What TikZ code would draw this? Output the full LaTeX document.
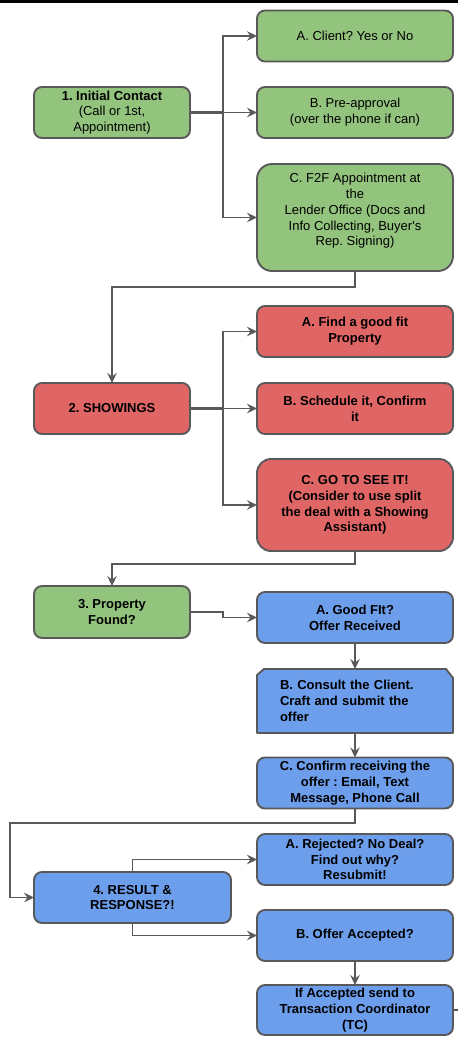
\documentclass[tikz,border=0pt]{standalone}
\usepackage{fontspec}
\setmainfont{Liberation Sans}
\usetikzlibrary{arrows.meta}
\pgfdeclarelayer{background}
\pgfsetlayers{background,main}
\definecolor{gfill}{HTML}{93C47D}
\definecolor{rfill}{HTML}{E06666}
\definecolor{bfill}{HTML}{6D9EEB}
\definecolor{edge}{HTML}{595959}
\frenchspacing
\begin{document}
\begin{tikzpicture}[x=1pt,y=-1pt,
  box/.style={draw=edge, line width=1.9pt, rounded corners=8pt, inner sep=0pt, outer sep=0pt,
    minimum width=196pt, minimum height=51pt, align=center, text=black,
    font=\fontsize{13}{15.8}\selectfont},
  gbox/.style={box, fill=gfill},
  gboxb/.style={box, fill=gfill, font=\fontsize{13}{15.8}\selectfont\bfseries},
  rbox/.style={box, fill=rfill, font=\fontsize{13}{15.8}\selectfont\bfseries},
  bbox/.style={box, fill=bfill, font=\fontsize{13}{15.8}\selectfont\bfseries},
  conn/.style={draw=edge, line width=1.8pt},
  thick conn/.style={draw=edge, line width=2.8pt},
  arr/.style={conn, -{Stealth[length=10pt,width=9.5pt,inset=3.5pt]}},
]
\useasboundingbox (0,0) rectangle (458,1037);
\begin{pgfonlayer}{background}
\fill[white] (0,0) rectangle (458,1037);
\end{pgfonlayer}
\fill[black] (0,0) rectangle (458,2.5);

% Group 1
\node[gbox] (a1) at (355,36) {A. Client? Yes or No};
\node[gbox] (b1) at (355,112.5) {B. Pre-approval\\(over the phone if can)};
\node[gbox, minimum height=107pt, rounded corners=15pt] (c1) at (355,217.5)
  {C. F2F Appointment at\\the\\Lender Office (Docs and\\Info Collecting, Buyer\textquotesingle s\\Rep. Signing)\\\mbox{}};
\node[gbox, minimum width=156pt] (n1) at (112,112.5) {\textbf{1. Initial Contact}\\(Call or 1st,\\Appointment)};

% Group 2
\node[rbox] (a2) at (355,331.5) {A. Find a good fit\\Property};
\node[rbox] (b2) at (355,408.5) {B. Schedule it, Confirm\\it};
\node[rbox, minimum height=92pt, rounded corners=14pt] (c2) at (355,505)
  {C. GO TO SEE IT!\\(Consider to use split\\the deal with a Showing\\Assistant)};
\node[rbox, minimum width=156pt] (n2) at (112,408.5) {2. SHOWINGS};

% Group 3
\node[gboxb, minimum width=156pt, minimum height=52pt] (n3) at (112,612) {3. Property\\Found?};
\node[bbox] (a3) at (355,617.5) {A. Good FIt?\\Offer Received};
\node[bbox, draw=none, fill=none, minimum height=64pt, text width=150pt, align=left] (b3) at (355,701)
  {B. Consult the Client.\\Craft and submit the\\offer};
\node[bbox] (c3) at (355,783) {C. Confirm receiving the\\offer : Email, Text\\Message, Phone Call};
\begin{pgfonlayer}{background}
\filldraw[fill=bfill, draw=edge, line width=1.9pt, line join=round]
  ([yshift=-6pt]b3.north west) -- ([xshift=7pt]b3.north west) -- ([xshift=-7pt]b3.north east)
  -- ([yshift=-9pt]b3.north east) -- (b3.south east) -- (b3.south west) -- cycle;
\end{pgfonlayer}

% Group 4
\node[bbox, minimum width=197pt] (n4) at (132.5,897.5) {4. RESULT \&\\RESPONSE?!};
\node[bbox] (a4) at (355,859.5) {A. Rejected? No Deal?\\Find out why?\\Resubmit!};
\node[bbox] (b4) at (355,935.5) {B. Offer Accepted?};
\node[bbox, minimum height=50pt] (c4) at (355,1010) {If Accepted send to\\Transaction Coordinator\\(TC)};

% Connector helper points
\coordinate (j1) at (223,112.5);
\coordinate (j2) at (223,408.5);
\coordinate (k1) at (355,287);
\coordinate (k2) at (355,564);
\coordinate (m1) at (223,612);
\coordinate (m2) at (223,617.5);
\coordinate (k3) at (355,823);
\coordinate (k4) at (10,823);
\coordinate (e1) at (458,1010);

% Connectors
\draw[thick conn] (n1.east) -- (j1);
\draw[arr] (j1) |- (a1.west);
\draw[arr] (j1) -- (b1.west);
\draw[arr] (j1) |- (c1.west);
\draw[arr] (c1.south) -- (k1) -| (n2.north);

\draw[thick conn] (n2.east) -- (j2);
\draw[arr] (j2) |- (a2.west);
\draw[arr] (j2) -- (b2.west);
\draw[arr] (j2) |- (c2.west);
\draw[arr] (c2.south) -- (k2) -| (n3.north);

\draw[arr] (n3.east) -- (m1) -- (m2) -- (a3.west);
\draw[arr] (a3.south) -- (b3.north);
\draw[arr] (b3.south) -- (c3.north);
\draw[arr] (c3.south) -- (k3) -- (k4) |- (n4.west);

\draw[arr] (n4.north) |- (a4.west);
\draw[arr] (n4.south) |- (b4.west);
\draw[arr] (b4.south) -- (c4.north);
\draw[conn] (c4.east) -- (e1);
\end{tikzpicture}
\end{document}
